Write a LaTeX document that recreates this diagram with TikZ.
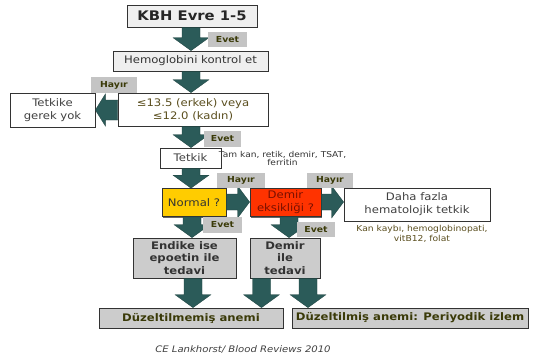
\documentclass[tikz,border=0pt]{standalone}
\usepackage{fontspec}
\setmainfont{DejaVu Sans}[FakeStretch=1.12]
\usetikzlibrary{calc,shadows}
\definecolor{arrc}{HTML}{2B5B59}
\definecolor{labc}{HTML}{C4C4C4}
\definecolor{olv}{HTML}{3A3A08}
\definecolor{olvtxt}{HTML}{5A4E1E}
\definecolor{gold}{HTML}{FFCC00}
\definecolor{redb}{HTML}{FF3300}
\definecolor{redt}{HTML}{7A1000}
\definecolor{grayb}{HTML}{CCCCCC}
\definecolor{lightb}{HTML}{EFEFEF}
\newcommand\fsz[2]{\fontsize{#1}{#2}\selectfont}
% vertical block arrow: x (px), from, to
\newcommand\vbarrow[3]{\fill[blk] let \p1=(#2), \p2=(#3) in
  (#1pt-9pt,\y1) -- (#1pt-9pt,\y2+13pt) -- (#1pt-18pt,\y2+13pt) -- (#1pt,\y2)
  -- (#1pt+18pt,\y2+13pt) -- (#1pt+9pt,\y2+13pt) -- (#1pt+9pt,\y1) -- cycle;}
% horizontal block arrow to the right: y (px), from, to
\newcommand\rbarrow[3]{\fill[blk] let \p1=(#2), \p2=(#3) in
  (\x1,-#1pt+8pt) -- (\x2-12pt,-#1pt+8pt) -- (\x2-12pt,-#1pt+16pt) -- (\x2,-#1pt)
  -- (\x2-12pt,-#1pt-16pt) -- (\x2-12pt,-#1pt-8pt) -- (\x1,-#1pt-8pt) -- cycle;}
% horizontal block arrow to the left
\newcommand\lbarrow[3]{\fill[blk] let \p1=(#2), \p2=(#3) in
  (\x1,-#1pt+10pt) -- (\x2+10pt,-#1pt+10pt) -- (\x2+10pt,-#1pt+16pt) -- (\x2,-#1pt)
  -- (\x2+10pt,-#1pt-16pt) -- (\x2+10pt,-#1pt-10pt) -- (\x1,-#1pt-10pt) -- cycle;}
\begin{document}
\begin{tikzpicture}[x=1pt,y=-1pt,
  box/.style={draw=black!80,line width=0.7pt,inner sep=1pt,align=center,
    drop shadow={shadow xshift=1.3pt,shadow yshift=-1.3pt,fill=black!60,opacity=1}},
  lab/.style={fill=labc,inner sep=0pt,font=\fsz{8.3}{10}\bfseries,text=olv},
  blk/.style={fill=arrc,draw=arrc!70!black,line width=0.3pt},
  reg/.style={font=\fsz{10.4}{12.8}},
  bld/.style={font=\fsz{10.4}{12.3}\bfseries}]
\useasboundingbox (0,0) rectangle (533,360);
\fill[white] (0,0) rectangle (533,360);
% nodes
\node[box,fill=lightb,minimum width=130pt,minimum height=22pt,font=\fsz{13.2}{15}\bfseries,text=black!85] (kbh) at (192,16) {KBH Evre 1-5};
\node[box,fill=lightb,minimum width=155pt,minimum height=20pt,reg,text=black!80] (hemo) at (190.5,61) {Hemoglobini kontrol et};
\node[box,fill=white,minimum width=85pt,minimum height=34pt,reg,text=black!75] (tgy) at (52.5,110) {Tetkike\\gerek yok};
\node[box,fill=white,minimum width=150pt,minimum height=33pt,reg,text=olvtxt] (esik) at (193,109.5) {≤13.5 (erkek) veya\\≤12.0 (kadın)};
\node[box,fill=white,minimum width=61pt,minimum height=20pt,reg,text=black!75] (tetkik) at (190.5,158) {Tetkik};
\node[font=\fsz{8.1}{8.6},text=black!80,align=center,inner sep=0pt] (tamkan) at (282.5,158.5) {Tam kan, retik, demir, TSAT,\\ferritin};
\node[box,fill=gold,minimum width=64pt,minimum height=28pt,reg,text=black!80] (normal) at (194,202.5) {Normal ?};
\node[box,fill=redb,minimum width=71pt,minimum height=28pt,reg,text=redt] (demir) at (285.5,202.5) {Demir\\eksikliği ?};
\node[box,fill=white,minimum width=146pt,minimum height=33pt,reg,text=black!75] (daha) at (417,204.5) {Daha fazla\\hematolojik tetkik};
\node[font=\fsz{8.2}{10},text=olvtxt,align=center,inner sep=0pt] (kan) at (422,233.5) {Kan kaybı, hemoglobinopati,\\vitB12, folat};
\node[box,fill=grayb,minimum width=103pt,minimum height=40pt,bld,text=black!80] (endike) at (184.5,258) {Endike ise\\epoetin ile\\tedavi};
\node[box,fill=grayb,minimum width=70pt,minimum height=40pt,bld,text=black!80] (dtedavi) at (285,258) {Demir\\ile\\tedavi};
\node[box,fill=grayb,minimum width=184pt,minimum height=20pt,bld,text=olv] (dz1) at (191,318) {Düzeltilmemiş anemi};
\node[box,fill=grayb,minimum width=236pt,minimum height=20pt,bld,text=olv] (dz2) at (410,318) {Düzeltilmiş anemi: Periyodik izlem};
\node[font=\fsz{9}{10}\itshape,text=black!75,inner sep=0pt] (cite) at (243,349.5) {CE Lankhorst/ Blood Reviews 2010};
% arrows
\vbarrow{191}{kbh.south}{hemo.north}
\vbarrow{191}{hemo.south}{esik.north}
\lbarrow{110}{esik.west}{tgy.east}
\vbarrow{191}{esik.south}{tetkik.north}
\vbarrow{191}{tetkik.south}{normal.north}
\rbarrow{202}{normal.east}{demir.west}
\rbarrow{202}{demir.east}{daha.west}
\vbarrow{192}{normal.south}{endike.north}
\vbarrow{289}{demir.south}{dtedavi.north}
\vbarrow{193}{endike.south}{dz1.north}
\vbarrow{261.5}{dtedavi.south}{dz1.north}
\vbarrow{308}{dtedavi.south}{dz2.north}
% labels
\node[lab,minimum width=39pt,minimum height=15pt] (ev1) at (227.5,39.5) {Evet};
\node[lab,minimum width=46pt,minimum height=16pt] (hy1) at (114,85) {Hayır};
\node[lab,minimum width=37pt,minimum height=16pt] (ev2) at (222.5,138.5) {Evet};
\node[lab,minimum width=48pt,minimum height=15pt] (hy2) at (241,180.5) {Hayır};
\node[lab,minimum width=46pt,minimum height=15pt] (hy3) at (330,180.5) {Hayır};
\node[lab,minimum width=39pt,minimum height=16pt] (ev3) at (222.5,225) {Evet};
\node[lab,minimum width=38pt,minimum height=15pt] (ev4) at (316,229.5) {Evet};
\end{tikzpicture}
\end{document}
